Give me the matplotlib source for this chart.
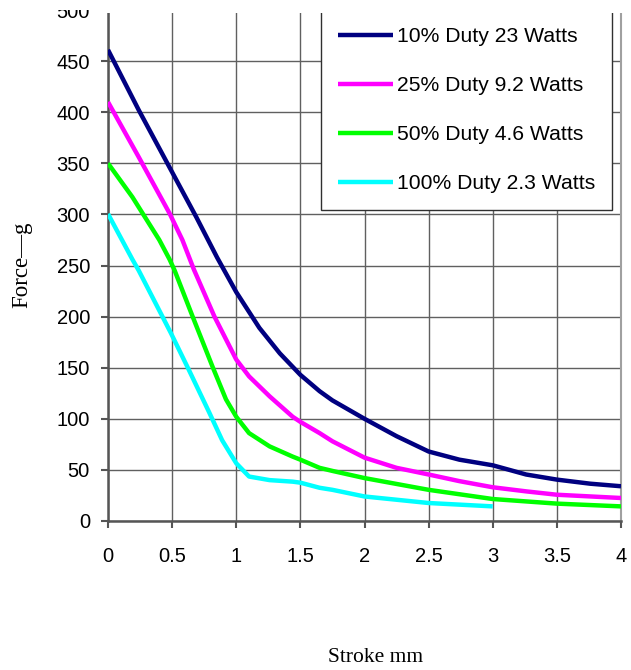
import matplotlib
matplotlib.use("Agg")
import matplotlib.pyplot as plt
from matplotlib.patches import Rectangle

# ---- data ----
labels = ["10% Duty 23 Watts", "25% Duty 9.2 Watts", "50% Duty 4.6 Watts", "100% Duty 2.3 Watts"]
colors = ["#000080", "#FF00FF", "#00FF00", "#00FFFF"]

x10 = [0, 0.24, 0.48, 0.69, 0.85, 1.0, 1.18, 1.34, 1.5, 1.65, 1.75, 2.0, 2.25, 2.5, 2.74, 3.0, 3.26, 3.5, 3.76, 4.0]
y10 = [461, 402, 346, 297, 258, 224, 189, 164, 143, 127, 118, 100, 83, 68, 60, 54.5, 45.5, 40.5, 36.5, 34]

x25 = [0, 0.24, 0.48, 0.58, 0.67, 0.83, 1.0, 1.1, 1.26, 1.44, 1.5, 1.65, 1.75, 2.0, 2.25, 2.5, 2.74, 3.0, 3.26, 3.5, 4.0]
y25 = [410, 356, 301, 275, 246, 200, 158, 141.5, 122, 102, 97, 86, 78, 62, 52, 45.5, 39, 33, 29, 25.7, 22.5]

x50 = [0, 0.19, 0.40, 0.48, 0.52, 0.66, 0.815, 0.92, 1.0, 1.1, 1.26, 1.44, 1.5, 1.65, 1.75, 2.0, 2.5, 3.0, 3.5, 4.0]
y50 = [350, 317, 275, 256, 245, 200, 151, 119, 102, 86, 73, 63, 60, 52, 49, 42, 30.5, 21.5, 17, 14.3]

x100 = [0, 0.19, 0.24, 0.49, 0.63, 0.79, 0.89, 1.0, 1.1, 1.26, 1.44, 1.5, 1.65, 1.75, 2.0, 2.5, 3.0]
y100 = [300.5, 256, 245, 184, 148, 106, 79, 56.5, 43.5, 40, 38.5, 37.5, 32.5, 30.5, 24, 17.6, 14.3]

xticks = [0, 0.5, 1, 1.5, 2, 2.5, 3, 3.5, 4]
xticklabels = ["0", "0.5", "1", "1.5", "2", "2.5", "3", "3.5", "4"]
yticks = [0, 50, 100, 150, 200, 250, 300, 350, 400, 450, 500]

series = [(x10, y10), (x25, y25), (x50, y50), (x100, y100)]

# ---- figure ----
W, H = 631, 670
fig = plt.figure(figsize=(W / 100, H / 100), dpi=100)
L, R, B, T = 108, 621, 521, 10
ax = fig.add_axes([L / W, 1 - B / H, (R - L) / W, (B - T) / H])

for (xs, ys), c, lab in zip(series, colors, labels):
    ax.plot(xs, ys, color=c, lw=3.2, label=lab, solid_capstyle="butt",
            solid_joinstyle="round", zorder=3)

ax.set_xlim(0, 4)
ax.set_ylim(0, 500)
ax.set_xticks(xticks)
ax.set_xticklabels(xticklabels)
ax.set_yticks(yticks)

for t in ax.get_xticklabels() + ax.get_yticklabels():
    t.set_fontfamily("Liberation Sans")
    t.set_fontsize(14.5)

ax.grid(True, color="#606060", lw=1.0, zorder=1)
ax.set_axisbelow(True)
ax.tick_params(axis="x", direction="out", length=5, width=1.5, color="#555555", pad=14)
ax.tick_params(axis="y", direction="out", length=5, width=1.5, color="#555555", pad=8)

ax.spines["top"].set_visible(False)
ax.spines["right"].set_color("#a0a0a0")
ax.spines["right"].set_linewidth(1.5)
for s in ("left", "bottom"):
    ax.spines[s].set_color("#555555")
    ax.spines[s].set_linewidth(1.8)

leg = ax.legend(loc="upper left",
                bbox_to_anchor=((321 - L) / (R - L), (B - 208) / (B - T),
                                (612 - 321) / (R - L), (208 - T) / (B - T)),
                mode="expand", prop=dict(family="Liberation Sans", size=15.2),
                frameon=True, fancybox=False, framealpha=1, edgecolor="#303030",
                handlelength=2.6, handletextpad=0.2, labelspacing=1.43,
                borderpad=0.8, borderaxespad=0.0)
leg.get_frame().set_linewidth(1.0)
for h in leg.get_lines():
    h.set_linewidth(3.2)

ax.set_xlabel("Stroke mm", family="Liberation Serif", fontsize=15.5)
ax.xaxis.set_label_coords((376 - L) / (R - L), (B - 658) / (B - T))
ax.xaxis.label.set_va("center")
ax.set_ylabel("Force\u2014g", family="Liberation Serif", fontsize=16.5)
ax.yaxis.set_label_coords((22 - L) / (R - L), (B - 265) / (B - T))
ax.yaxis.label.set_va("center")

# white band cropping the top of the chart, as in the reference
fig.patches.append(Rectangle((0, 1 - 10 / H), 1, 10 / H, transform=fig.transFigure,
                             facecolor="white", edgecolor="none", zorder=10))
fig.patches.append(Rectangle((100 / W, 1 - 13 / H), 1, 13 / H, transform=fig.transFigure,
                             facecolor="white", edgecolor="none", zorder=10))

fig.savefig("out.png", dpi=100)
